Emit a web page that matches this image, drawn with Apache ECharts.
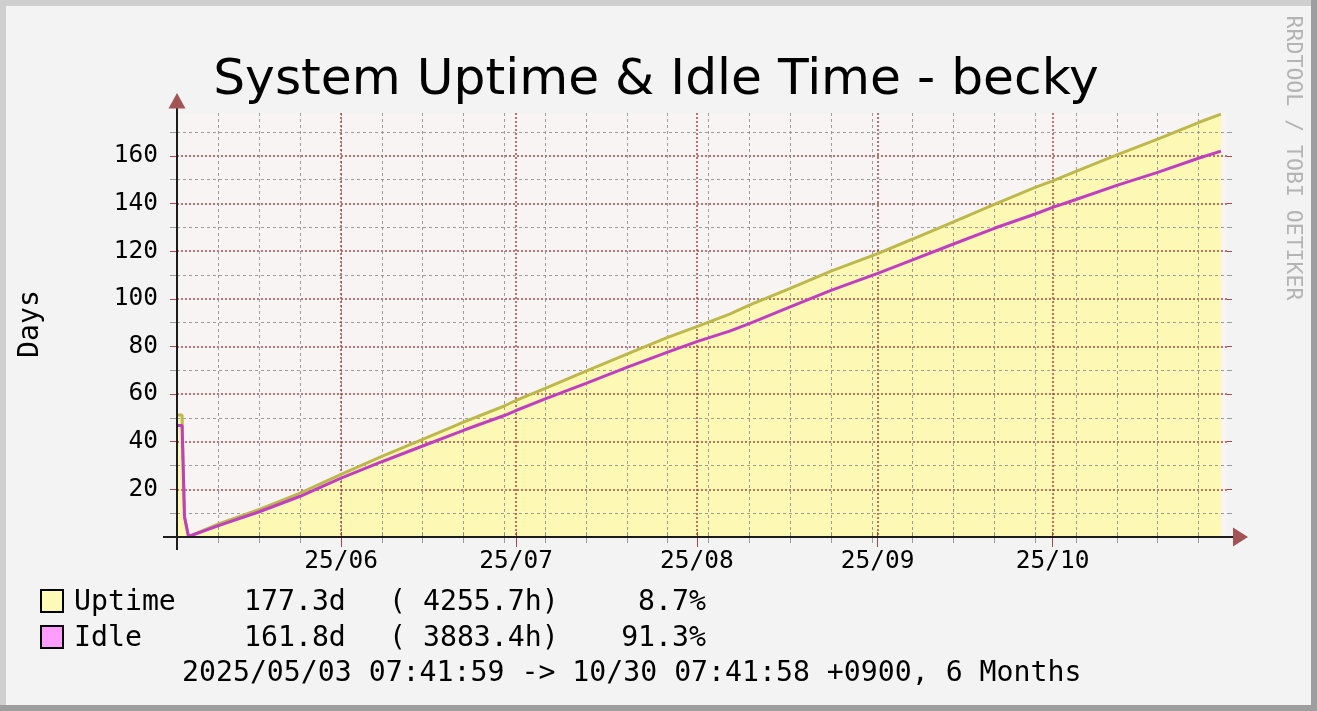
<!DOCTYPE html>
<html>
<head>
<meta charset="utf-8">
<title>System Uptime & Idle Time - becky</title>
<script src="https://cdn.jsdelivr.net/npm/echarts@6/dist/echarts.min.js"></script>
<style>
  html, body { margin: 0; padding: 0; background: #f3f3f3; }
  #chart { width: 1317px; height: 711px; }
</style>
</head>
<body>
<div id="chart"></div>
<script>
// samples (local time +0900), values in days
var sampleTimes = [
  '2025-05-03T21:14', '2025-05-04T18:00', '2025-05-05T04:00', '2025-05-05T20:30',
  '2025-05-11T00:00', '2025-05-18T00:00', '2025-05-25T00:00', '2025-06-01T00:00',
  '2025-06-08T00:00', '2025-06-15T00:00', '2025-06-22T00:00', '2025-06-29T00:00',
  '2025-07-01T00:00', '2025-07-06T00:00', '2025-07-13T00:00', '2025-07-20T00:00',
  '2025-07-27T00:00', '2025-08-01T00:00', '2025-08-06T15:00', '2025-08-10T00:00',
  '2025-08-17T00:00', '2025-08-24T00:00', '2025-09-01T00:00', '2025-09-07T00:00',
  '2025-09-14T00:00', '2025-09-21T00:00', '2025-09-28T00:00', '2025-10-01T00:00',
  '2025-10-05T00:00', '2025-10-12T00:00', '2025-10-19T00:00', '2025-10-26T00:00',
  '2025-10-29T20:30'
]
var uptimeDays = [
  51.2, 51.2, 8.5, 0.2, 5.5, 11.6, 18.4, 26.3,
  33.8, 41.0, 48.2, 55.0, 57.4, 62.4, 69.6, 76.8,
  83.8, 88.3, 93.6, 97.3, 104.4, 111.6, 119.0, 125.1,
  132.3, 139.6, 146.8, 149.5, 153.5, 160.4, 167.0, 174.0,
  177.5
]
var idleDays = [
  46.8, 46.8, 8.5, 0.2, 4.8, 10.6, 17.1, 24.7,
  31.6, 38.2, 44.8, 51.0, 53.1, 58.0, 64.5, 71.2,
  77.6, 82.0, 86.4, 89.6, 96.6, 103.5, 110.7, 116.3,
  123.0, 129.6, 135.6, 138.4, 141.7, 147.6, 153.1, 159.0,
  162.0
]
var monthTicks = ['2025-06-01T00:00', '2025-07-01T00:00', '2025-08-01T00:00', '2025-09-01T00:00', '2025-10-01T00:00']
var monthLabels = ['25/06', '25/07', '25/08', '25/09', '25/10']
var yMajorTicks = [20, 40, 60, 80, 100, 120, 140, 160]
var yMinorTicks = [10, 30, 50, 70, 90, 110, 130, 150, 170]

var legendRows = [
  { name: 'Uptime', cur: '177.3d', hours: '( 4255.7h)', pct: '8.7%', color: '#fdfab8' },
  { name: 'Idle', cur: '161.8d', hours: '( 3883.4h)', pct: '91.3%', color: '#ff9cff' }
]
var footerText = '2025/05/03 07:41:59 -> 10/30 07:41:58 +0900, 6 Months'

function toMs (s) { return Date.parse(s + ':00+09:00') }

var DAY = 86400000
var xMin = toMs('2025-05-03T21:14')
var xMax = xMin + 180 * DAY

// weekly grid on sundays
var weekTicks = []
for (var t = toMs('2025-05-04T00:00'); t < xMax; t += 7 * DAY) {
  weekTicks.push(t)
}
var monthMs = monthTicks.map(toMs)

var uptimeData = sampleTimes.map(function (s, i) { return [toMs(s), uptimeDays[i]] })
var idleData = sampleTimes.map(function (s, i) { return [toMs(s), idleDays[i]] })

// layout
var gLeft = 177
var gTop = 113
var gWidth = 1050
var gHeight = 424
var gBottom = gTop + gHeight

var mono = '"DejaVu Sans Mono", monospace'
var legendFont = '28.2px ' + mono
var minorColor = 'rgba(135,135,135,0.8)'
var majorColor = 'rgba(160,55,55,0.9)'
var arrowColor = '#a25454'

function gridLine (color) {
  if (color === majorColor) {
    return { color: color, width: 1.5, type: [2, 2] }
  }
  return { color: color, width: 1, type: [3, 3] }
}

function xAxisOf (pos, ticks, color, len, grid, label) {
  return {
    type: 'value',
    position: pos,
    min: xMin,
    max: xMax,
    z: 3,
    axisLine: { show: false },
    axisTick: { show: true, customValues: ticks, length: len, lineStyle: { color: color, width: 1 } },
    splitLine: { show: grid, lineStyle: gridLine(color) },
    axisLabel: label ? {
      show: true,
      customValues: ticks,
      margin: 12,
      fontFamily: mono,
      fontSize: 24.5,
      color: '#000',
      formatter: function (v) { return monthLabels[monthMs.indexOf(v)] }
    } : { show: false }
  }
}

function yAxisOf (pos, ticks, color, len, grid, label) {
  return {
    type: 'value',
    position: pos,
    min: 0,
    max: 178,
    z: 3,
    axisLine: { show: false },
    axisTick: { show: true, customValues: ticks, length: len, lineStyle: { color: color, width: 1 } },
    splitLine: { show: grid, lineStyle: gridLine(color) },
    axisLabel: label ? {
      show: true,
      customValues: ticks,
      margin: 19,
      fontFamily: mono,
      fontSize: 24.5,
      color: '#000'
    } : { show: false }
  }
}

function label (text, x, y, font, fill, align, rotation) {
  return {
    type: 'text', x: x, y: y, rotation: rotation || 0, z: 60,
    style: { text: text, font: font, fill: fill, align: align, verticalAlign: 'middle', textAlign: align, textVerticalAlign: 'middle' }
  }
}

var graphics = [
  // frame
  { type: 'rect', shape: { x: 0, y: 0, width: 1317, height: 6 }, style: { fill: '#cfcfcf' }, z: 100 },
  { type: 'rect', shape: { x: 0, y: 0, width: 6, height: 711 }, style: { fill: '#cfcfcf' }, z: 100 },
  { type: 'rect', shape: { x: 1311, y: 0, width: 6, height: 711 }, style: { fill: '#9e9e9e' }, z: 100 },
  { type: 'rect', shape: { x: 0, y: 705, width: 1317, height: 6 }, style: { fill: '#9e9e9e' }, z: 100 },
  // axis lines and arrows
  { type: 'line', shape: { x1: 163, y1: gBottom, x2: 1234, y2: gBottom }, style: { stroke: '#1c1c1c', lineWidth: 2 }, z: 50 },
  { type: 'line', shape: { x1: gLeft, y1: 550, x2: gLeft, y2: 107 }, style: { stroke: '#1c1c1c', lineWidth: 2 }, z: 50 },
  { type: 'polygon', shape: { points: [[1233, gBottom - 9.5], [1248, gBottom], [1233, gBottom + 9.5]] }, style: { fill: arrowColor }, z: 51 },
  { type: 'polygon', shape: { points: [[gLeft - 8.5, 108.5], [gLeft, 93], [gLeft + 8.5, 108.5]] }, style: { fill: arrowColor }, z: 51 },
  label('System Uptime & Idle Time - becky', 656, 81, '50.3px "DejaVu Sans"', '#000', 'center'),
  label('Days', 31, 324, legendFont, '#000', 'center', Math.PI / 2),
  label('RRDTOOL / TOBI OETIKER', 1293, 158, '21.5px ' + mono, '#b4b4b4', 'center', -Math.PI / 2),
  label(footerText, 182, 674, legendFont, '#000', 'left')
]

legendRows.forEach(function (row, i) {
  var cy = 602 + i * 36
  graphics.push({
    type: 'rect', z: 60,
    shape: { x: 41, y: cy - 12, width: 22, height: 22 },
    style: { fill: row.color, stroke: '#000', lineWidth: 2 }
  })
  graphics.push(label(row.name, 74, cy + 1, legendFont, '#000', 'left'))
  graphics.push(label(row.cur, 244, cy + 1, legendFont, '#000', 'left'))
  graphics.push(label(row.hours, 389, cy + 1, legendFont, '#000', 'left'))
  graphics.push(label(row.pct, 706, cy + 1, legendFont, '#000', 'right'))
})

var chart = echarts.init(document.getElementById('chart'))
chart.setOption({
  backgroundColor: '#f3f3f3',
  animation: false,
  grid: {
    left: gLeft,
    top: gTop,
    width: gWidth,
    height: gHeight,
    show: true,
    backgroundColor: '#f8f4f4',
    borderWidth: 0
  },
  xAxis: [
    xAxisOf('bottom', weekTicks, minorColor, 6, true, false),
    xAxisOf('bottom', monthMs, majorColor, 10, true, true),
    xAxisOf('top', weekTicks, minorColor, 5, false, false),
    xAxisOf('top', monthMs, majorColor, 5, false, false)
  ],
  yAxis: [
    yAxisOf('left', yMinorTicks, minorColor, 7, true, false),
    yAxisOf('left', yMajorTicks, majorColor, 7, true, true),
    yAxisOf('right', yMinorTicks, minorColor, 5, false, false),
    yAxisOf('right', yMajorTicks, majorColor, 5, false, false)
  ],
  series: [
    {
      name: 'Uptime area',
      type: 'line',
      z: 1,
      data: uptimeData,
      showSymbol: false,
      silent: true,
      lineStyle: { width: 0 },
      areaStyle: { color: '#fdf9b5', opacity: 1 }
    },
    {
      name: 'Uptime',
      type: 'line',
      z: 5,
      data: uptimeData,
      showSymbol: false,
      lineStyle: { color: '#bdb84c', width: 3 }
    },
    {
      name: 'Idle',
      type: 'line',
      z: 5,
      data: idleData,
      showSymbol: false,
      lineStyle: { color: '#c03fc0', width: 3 }
    }
  ],
  graphic: graphics
})
</script>
</body>
</html>
